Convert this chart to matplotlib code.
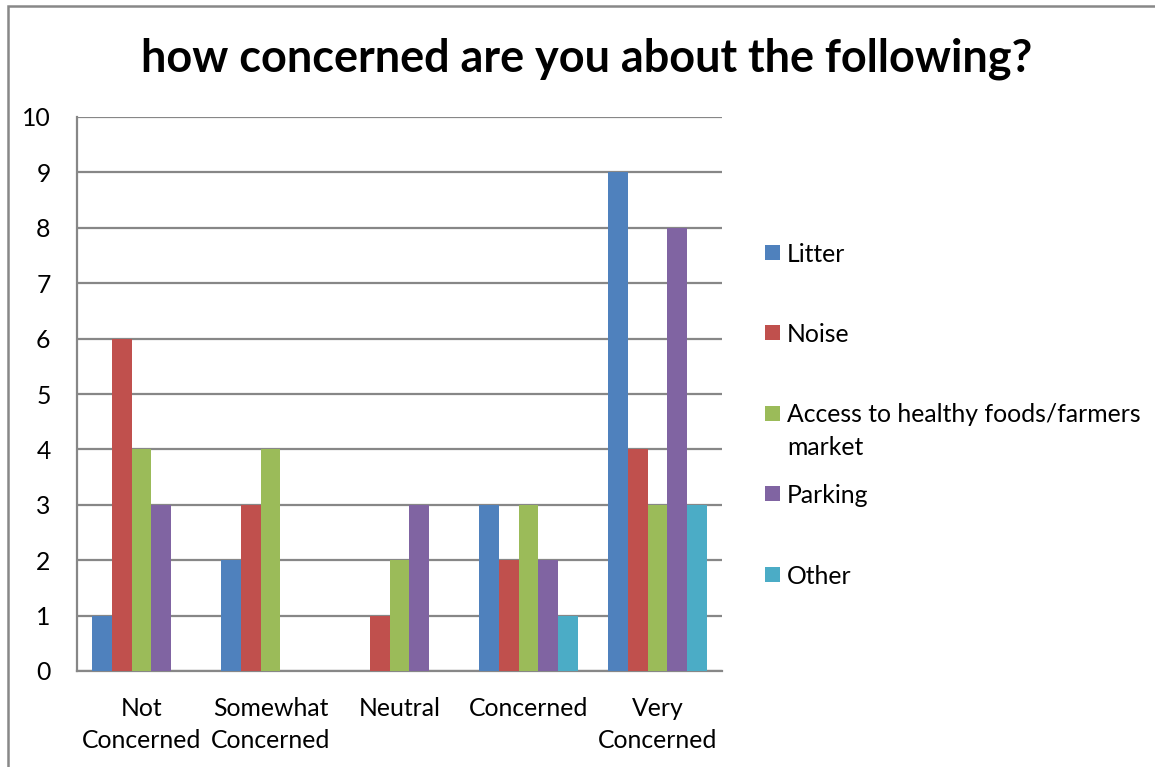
import matplotlib
matplotlib.use("Agg")
import matplotlib.pyplot as plt
import numpy as np
from matplotlib.patches import Rectangle

plt.rcParams['font.family'] = ['Lato', 'DejaVu Sans']

categories = ["Not\nConcerned", "Somewhat\nConcerned", "Neutral", "Concerned", "Very\nConcerned"]
series_names = ["Litter", "Noise", "Access to healthy foods/farmers\nmarket", "Parking", "Other"]
litter = [1, 2, 0, 3, 9]
noise = [6, 3, 1, 2, 4]
access = [4, 4, 2, 3, 3]
parking = [3, 0, 3, 2, 8]
other = [0, 0, 0, 1, 3]
series_values = [litter, noise, access, parking, other]
colors = ["#4F81BD", "#C0504D", "#9BBB59", "#8064A2", "#4BACC6"]
y_ticks = list(range(0, 11))

W, H = 1155, 767
fig = plt.figure(figsize=(W / 100, H / 100), dpi=100)
ax = fig.add_axes([77 / W, 1 - 671 / H, (722 - 77) / W, (671 - 117) / H])

n = len(series_values)
bw = 1 / 6.5
x = np.arange(len(categories))
for i, (vals, name, c) in enumerate(zip(series_values, series_names, colors)):
    ax.bar(x + (i - (n - 1) / 2) * bw, vals, width=bw, color=c, label=name, zorder=3)

FS = 17.8
ax.set_xlim(-0.5, len(categories) - 0.5)
ax.set_ylim(0, 10)
ax.set_yticks(y_ticks)
ax.set_xticks(x)
ax.set_xticklabels(categories, fontsize=FS, linespacing=1.47)
ax.tick_params(axis='y', length=0, pad=19, labelsize=FS)
ax.tick_params(axis='x', length=0, pad=19)
ax.grid(axis='y', color='#878787', linewidth=1.6, zorder=0)
for s in ['top', 'right']:
    ax.spines[s].set_visible(False)
for s in ['left', 'bottom']:
    ax.spines[s].set_color('#878787')
    ax.spines[s].set_linewidth(1.6)

# legend drawn manually to match the Excel layout
for i, (name, c) in enumerate(zip(series_names, colors)):
    yc = 252 + i * 80.5
    fig.patches.append(Rectangle((765 / W, 1 - (yc + 7.5) / H), 15 / W, 15 / H,
                                 transform=fig.transFigure, facecolor=c, edgecolor='none'))
    for k, line in enumerate(name.split("\n")):
        fig.text(787 / W, 1 - (yc + 32 * k) / H, line, ha='left', va='center_baseline', fontsize=FS)

fig.text(0.508, 1 - 59 / H, "how concerned are you about the following?", ha='center', va='center',
         fontsize=32.4, fontweight='bold')

border = Rectangle((8 / W, -0.1), 1.2, 1 - 6 / H + 0.1, transform=fig.transFigure,
                   fill=False, edgecolor='#888888', linewidth=1.8)
fig.patches.append(border)

fig.savefig("out.png", dpi=100)
